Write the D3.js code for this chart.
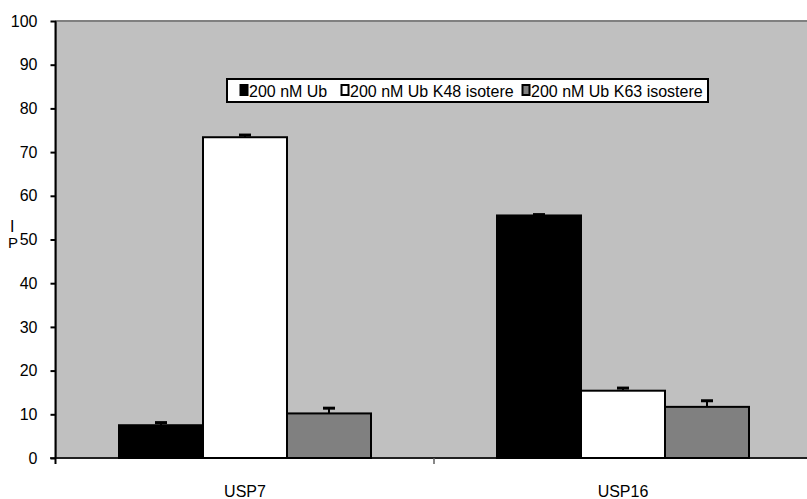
<!DOCTYPE html>
<html>
<head>
<meta charset="utf-8">
<script src="https://cdn.jsdelivr.net/npm/d3@7"></script>
<style>
  html, body { margin: 0; padding: 0; background: #fff; }
  svg { display: block; font-family: "Liberation Sans", Arial, sans-serif; }
</style>
</head>
<body>
<svg id="chart" width="807" height="499"></svg>
<script>
// Enzymes tested
const categories = ["USP7", "USP16"];
// Substrate series
const seriesNames = ["200 nM Ub", "200 nM Ub K48 isotere", "200 nM Ub K63 isostere"];
// Mean signal per enzyme, one array per series
const ubValues = [7.5, 55.5];
const k48Values = [73.4, 15.4];
const k63Values = [10.2, 11.7];
// Standard deviations (plus direction)
const ubErrors = [0.6, 0.2];
const k48Errors = [0.5, 0.6];
const k63Errors = [1.2, 1.4];
// Y axis ticks
const yTicks = [0, 10, 20, 30, 40, 50, 60, 70, 80, 90, 100];

const seriesFills = ["#000000", "#ffffff", "#808080"];
const values = [ubValues, k48Values, k63Values];
const errors = [ubErrors, k48Errors, k63Errors];

const svg = d3.select("#chart");

const plot = { left: 56, right: 812, top: 21, bottom: 458 };

const x0 = d3.scaleBand().domain(categories).range([plot.left, plot.right]).paddingInner(0).paddingOuter(0);
// Gap width 50% of a bar: group occupies bandwidth / 1.5
const groupW = x0.bandwidth() / 1.5;
const x1 = d3.scaleBand().domain(seriesNames).range([0, groupW]).padding(0);
const y = d3.scaleLinear().domain([0, 100]).range([plot.bottom, plot.top]);

// Plot area
svg.append("rect")
  .attr("x", plot.left).attr("y", plot.top)
  .attr("width", plot.right - plot.left).attr("height", plot.bottom - plot.top)
  .attr("fill", "#c0c0c0")
  .attr("stroke", "#808080").attr("stroke-width", 2);

// Bars
const rows = [];
categories.forEach((c, ci) => {
  seriesNames.forEach((s, si) => {
    rows.push({ cat: c, ser: s, si, v: values[si][ci], e: errors[si][ci] });
  });
});

const groups = svg.append("g");
groups.selectAll("rect.bar").data(rows).join("rect")
  .attr("class", "bar")
  .attr("x", d => x0(d.cat) + (x0.bandwidth() - groupW) / 2 + x1(d.ser))
  .attr("y", d => y(d.v))
  .attr("width", x1.bandwidth())
  .attr("height", d => y(0) - y(d.v))
  .attr("fill", d => seriesFills[d.si])
  .attr("stroke", "#000").attr("stroke-width", 2);

// Error bars (plus only)
const cx = d => x0(d.cat) + (x0.bandwidth() - groupW) / 2 + x1(d.ser) + x1.bandwidth() / 2;
groups.selectAll("line.err").data(rows).join("line")
  .attr("class", "err")
  .attr("x1", cx).attr("x2", cx)
  .attr("y1", d => y(d.v)).attr("y2", d => y(d.v + d.e))
  .attr("stroke", "#000").attr("stroke-width", 2);
groups.selectAll("line.cap").data(rows).join("line")
  .attr("class", "cap")
  .attr("x1", d => cx(d) - 6).attr("x2", d => cx(d) + 6)
  .attr("y1", d => y(d.v + d.e)).attr("y2", d => y(d.v + d.e))
  .attr("stroke", "#000").attr("stroke-width", 3);

// X axis
svg.append("line")
  .attr("x1", 50).attr("x2", 807)
  .attr("y1", plot.bottom).attr("y2", plot.bottom)
  .attr("stroke", "#000").attr("stroke-width", 1.5);
svg.selectAll("line.xtick").data(categories.slice(1)).join("line")
  .attr("class", "xtick")
  .attr("x1", d => x0(d)).attr("x2", d => x0(d))
  .attr("y1", plot.bottom).attr("y2", plot.bottom + 6)
  .attr("stroke", "#606060").attr("stroke-width", 1.5);
svg.selectAll("text.xlab").data(categories).join("text")
  .attr("class", "xlab")
  .attr("x", d => x0(d) + x0.bandwidth() / 2)
  .attr("y", 497)
  .attr("text-anchor", "middle")
  .attr("font-size", 16)
  .text(d => d);

// Y axis
const yAxis = d3.axisLeft(y).tickValues(yTicks).tickSize(5).tickPadding(13);
const yg = svg.append("g").attr("transform", `translate(${plot.left - 0.5},0)`).call(yAxis);
yg.select(".domain").remove();
yg.selectAll(".tick line").attr("stroke", "#000").attr("stroke-width", 2);
yg.selectAll(".tick text")
  .attr("font-size", 16)
  .attr("font-family", "Liberation Sans, Arial, sans-serif")
  .attr("fill", "#000");
svg.append("line")
  .attr("x1", plot.left - 0.5).attr("x2", plot.left - 0.5)
  .attr("y1", plot.top).attr("y2", plot.bottom + 6)
  .attr("stroke", "#000").attr("stroke-width", 2);

// Y axis title (stacked letters)
svg.append("text").attr("x", 10).attr("y", 232).attr("font-size", 16).text("I");
svg.append("text").attr("x", 8).attr("y", 248).attr("font-size", 15).text("P");

// Legend
const legend = svg.append("g");
legend.append("rect")
  .attr("x", 227).attr("y", 79).attr("width", 481).attr("height", 23)
  .attr("fill", "#fff").attr("stroke", "#000").attr("stroke-width", 2);
const legendX = [240, 341, 522];
seriesNames.forEach((s, i) => {
  legend.append("rect")
    .attr("x", legendX[i] + 0.5).attr("y", 85)
    .attr("width", 7).attr("height", 10)
    .attr("fill", seriesFills[i])
    .attr("stroke", "#000").attr("stroke-width", 2);
  legend.append("text")
    .attr("x", legendX[i] + 9).attr("y", 96.5)
    .attr("font-size", 16)
    .text(s);
});
</script>
</body>
</html>
